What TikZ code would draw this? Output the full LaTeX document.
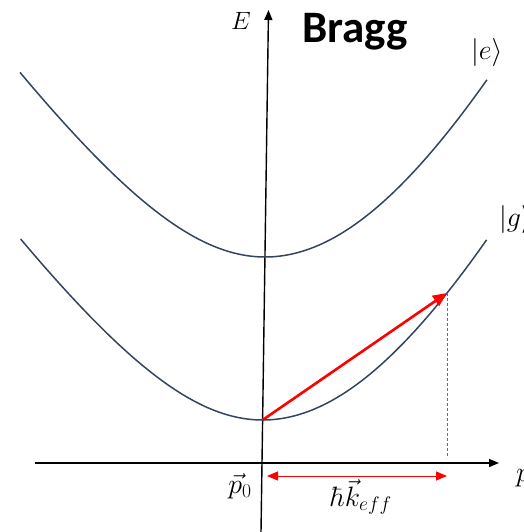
\RequirePackage{fix-cm}
\documentclass[tikz,border=0pt]{standalone}
\usepackage{fontspec}
\newfontfamily\calibri{Carlito}
\usetikzlibrary{arrows.meta}
\definecolor{curvecol}{HTML}{34445F}
\definecolor{dashred}{HTML}{E83C3C}
\begin{document}
\begin{tikzpicture}[x=1pt,y=-1pt,
  axis/.style={line width=1.4pt,black,-{Triangle[length=10pt,width=8pt]}},
  curve/.style={line width=1.5pt,curvecol},
  kick/.style={line width=2.6pt,red,-{Triangle[length=14pt,width=12pt]}},
  span/.style={line width=1pt,red,{Triangle[length=11pt,width=9pt]}-{Triangle[length=11pt,width=9pt]}},
  guide/.style={line width=1pt,dashred,dash pattern=on 3pt off 2pt},
  lbl/.style={inner sep=0pt,font=\fontsize{28}{32}\selectfont}]
\useasboundingbox (0,0) rectangle (523,532);
% axes
\coordinate (vb) at (261,532);
\coordinate (vt) at (268.5,10);
\coordinate (hl) at (35,463);
\coordinate (hr) at (499,463);
\draw[axis] (hl) -- (hr);
\draw[axis] (vb) -- (vt);
% excited-state curve
\draw[curve] plot[domain=-2.45:0,samples=60,variable=\u] ({265+100*\u},{257-100*(sqrt(2.55^2+2.136*\u*\u)-2.55)});
\draw[curve] plot[domain=0:2.22,samples=60,variable=\u] ({265+100*\u},{257-100*(sqrt(36+4.955*\u*\u)-6)});
% ground-state curve
\draw[curve] plot[domain=-2.42:0,samples=60,variable=\u] ({262.6+100*\u},{420-100*(sqrt(2.55^2+2.136*\u*\u)-2.55)});
\draw[curve] plot[domain=0:2.24,samples=60,variable=\u] ({262.6+100*\u},{420-100*(sqrt(36+4.955*\u*\u)-6)});
% kick
\coordinate (g0) at (262.6,420);
\coordinate (gk) at (447,293);
\coordinate (dk) at (447,458);
\draw[guide] (gk) -- (dk);
\draw[kick] (g0) -- (gk);
\coordinate (k0) at (267,476);
\coordinate (k1) at (447,476);
\draw[span] (k0) -- (k1);
% labels
\node[inner sep=0pt,font=\fontsize{25}{28}\selectfont] (E) at (241,21) {$E$};
\node[inner sep=0pt,font=\calibri\bfseries\fontsize{45}{50}\selectfont] (bragg) at (355,32) {Bragg};
\node[lbl,anchor=west] (e) at (471,53) {$|e\rangle$};
\node[lbl,anchor=west] (g) at (499,219) {$|g\rangle$};
\node[lbl,anchor=west] (p) at (516,478) {$p$};
\node[lbl] (p0) at (240,486) {$\vec p_0$};
\node[lbl] (hk) at (361,497) {$\hbar\vec k_{eff}$};
\end{tikzpicture}
\end{document}
